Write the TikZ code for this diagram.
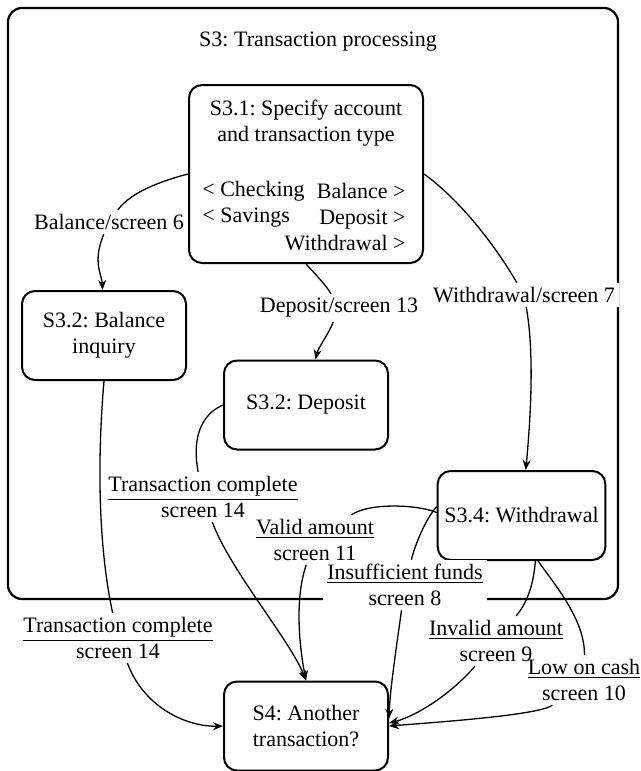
\documentclass[tikz,border=0pt]{standalone}
\usepackage{fontspec}
\setmainfont{Liberation Serif}
\usetikzlibrary{arrows.meta}
\frenchspacing

\tikzset{
  state/.style={draw, line width=1pt, rounded corners=6.5pt, align=center,
    minimum width=82pt, minimum height=44.5pt},
  note/.style={fill=white, inner sep=2pt, align=center},
  trans/.style={line width=0.65pt},
  go/.style={trans, -{Stealth[length=5pt,width=4pt]}}
}

\begin{document}
\begin{tikzpicture}[x=0.5pt, y=-0.5pt, font=\fontsize{11pt}{13pt}\selectfont]
\useasboundingbox (0,0) rectangle (641,771);
% outer state
\node[draw, line width=1.1pt, rounded corners=7pt, minimum width=305pt,
  minimum height=295.5pt] (s3) at (313,303.5) {};
\node (s3title) at (318,42) {S3: Transaction processing};
% states
\node[state, minimum width=117pt, minimum height=89pt] (s31) at (306,174) {};
\node[align=center] (s31title) at (306,123) {S3.1: Specify account\\and transaction type};
\node[anchor=west, align=left, inner sep=0pt] (s31acct) at (202,204) {< Checking\\< Savings};
\node[anchor=east, align=right, inner sep=0pt] (s31kind) at (406,217) {Balance >\\Deposit >\\Withdrawal >};
\node[state] (bal) at (104,335.5) {S3.2: Balance\\inquiry};
\node[state] (dep) at (306,405) {S3.2: Deposit};
\node[state] (wd) at (521.5,515.5) {S3.4: Withdrawal};
\node[state] (s4) at (306,726) {S4: Another\\transaction?};
% transition labels
\node[note] (bal6) at (109,222) {Balance/screen 6};
\node[note] (dep13) at (339,308) {Deposit/screen 13};
\node[note] (wd7) at (524,295) {Withdrawal/screen 7};
\node[note] (balok) at (118,638) {\underline{Transaction complete}\\screen 14};
\node[note] (depok) at (203,497) {\underline{Transaction complete}\\screen 14};
\node[note] (valid) at (315,540) {\underline{Valid amount}\\screen 11};
\node[note] (insuf) at (405,585) {\underline{Insufficient funds}\\screen 8};
\node[note] (invalid) at (496,641) {\underline{Invalid amount}\\screen 9};
\node[note, fill=none] (lowcash) at (584,680) {\underline{Low on cash}\\screen 10};
% transitions
\draw[trans] (s31.west) .. controls (150,184) and (128,196) .. (bal6);
\draw[go] (bal6) .. controls (92,262) and (102,275) .. (bal);
\draw[trans] (s31.south) .. controls (316,275) and (326,285) .. (dep13);
\draw[go] (dep13) .. controls (328,335) and (318,348) .. (dep);
\draw[trans] (s31.east) .. controls (460,200) and (495,245) .. (wd7);
\draw[go] (wd7) .. controls (535,355) and (530,425) .. (wd);
\draw[trans] (bal.south) .. controls (98,450) and (97,540) .. (balok);
\draw[go] (balok) .. controls (145,710) and (190,727) .. (s4.west);
\draw[trans] (dep.west) .. controls (200,415) and (192,440) .. (depok);
\draw[go] (depok) .. controls (230,570) and (290,640) .. (s4.north);
\draw[trans] (wd.178) .. controls (420,505) and (370,502) .. (valid);
\draw[go] (valid) .. controls (294,600) and (300,650) .. (s4.north);
\draw[trans] (wd.174) .. controls (425,520) and (415,545) .. (insuf);
\draw[go] (insuf) .. controls (396,650) and (390,690) .. (s4.5);
\draw[trans] (wd.-73) .. controls (533,590) and (525,605) .. (invalid);
\draw[go] (invalid) .. controls (455,690) and (420,715) .. (s4.2);
\draw[trans] (wd.-70) .. controls (555,585) and (585,620) .. (lowcash);
\draw[go] (lowcash) .. controls (540,715) and (440,722) .. (s4.east);
\end{tikzpicture}
\end{document}
